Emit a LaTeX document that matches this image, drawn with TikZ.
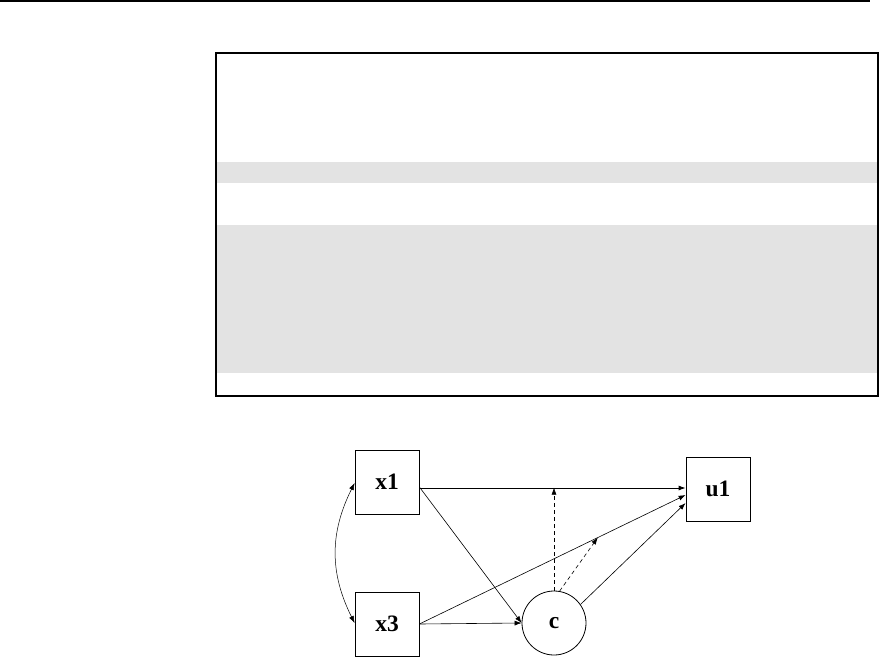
\documentclass[tikz,border=0pt]{standalone}
\usepackage{fontspec}
\setmainfont{Liberation Serif}
\usetikzlibrary{arrows.meta,calc}
\definecolor{bandgray}{RGB}{227,227,227}
\tikzset{
  obs/.style={draw, line width=0.8pt, minimum width=64pt, minimum height=64pt, inner sep=0pt,
    font=\fontsize{23.5}{27}\selectfont\bfseries},
  lat/.style={draw, circle, line width=0.8pt, minimum size=64pt, inner sep=0pt,
    font=\fontsize{23.5}{27}\selectfont\bfseries},
  path/.style={line width=0.6pt, -{Latex[length=7pt,width=5pt]}},
  dpath/.style={line width=0.6pt, dashed, dash pattern=on 4pt off 3pt, -{Latex[length=7pt,width=5pt]}},
  cov/.style={line width=0.5pt, {Latex[length=7pt,width=5pt]}-{Latex[length=7pt,width=5pt]}}
}
\begin{document}
\begin{tikzpicture}[x=1pt,y=-1pt]
\useasboundingbox (0,0) rectangle (879,657);
% page rule
\draw[line width=2pt] (0,1) -- (870,1);
% syntax box with gray bands
\fill[bandgray] (216,162) rectangle (878,183);
\fill[bandgray] (216,225) rectangle (878,373);
\draw[line width=1.3pt] (216,53) rectangle (878,396);
% nodes
\node[obs] (x1) at (387,482) {x1};
\node[obs] (x3) at (387,624) {x3};
\node[obs] (u1) at (718,489) {u1};
\node[lat] (c) at (554,623) {c};
% paths
\draw[path, line width=0.8pt] ($(x1.east)+(0,6)$) -- ($(u1.west)+(0,-1)$);
\draw[path] ($(x1.east)+(0,5)$) -- (c.west);
\draw[path] (x3.east) -- (c.west);
\draw[path] (x3.east) -- ($(u1.west)+(0,6)$) coordinate[pos=0.67] (m2);
\draw[path] (c.35) -- ($(u1.west)+(0,14)$);
\coordinate (m1) at ($(c.north)+(0,-103)$);
\draw[dpath] (c.north) -- (m1);
\draw[dpath] (c.80) -- (m2);
\draw[cov] ($(x1.west)+(0,1)$) .. controls +(-25,50) and +(-25,-50) .. ($(x3.west)+(0,-1)$);
\end{tikzpicture}
\end{document}
